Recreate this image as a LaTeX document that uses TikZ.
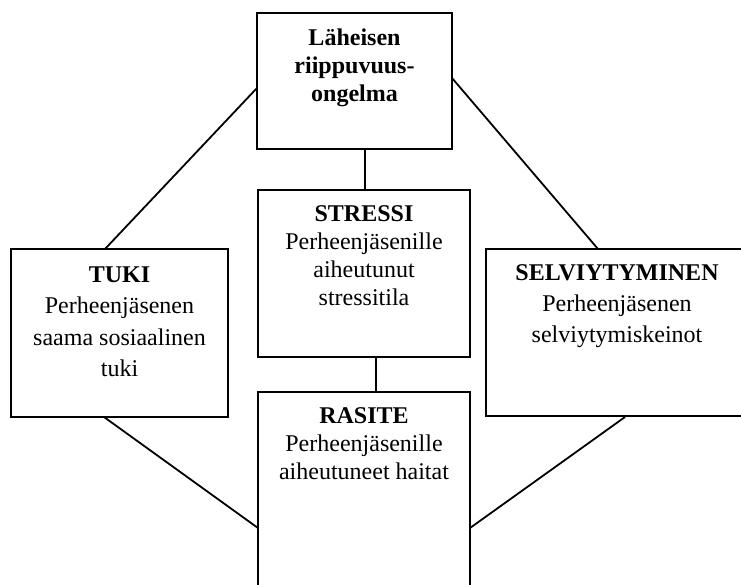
\documentclass[tikz,border=0pt]{standalone}
\usepackage{fontspec}
\setmainfont{Liberation Serif}
\begin{document}
\begin{tikzpicture}[x=1pt,y=-1pt,
  boxstyle/.style={draw=black, line width=2pt, fill=white, inner sep=0pt},
  conn/.style={draw=black, line width=1.8pt},
  lbl/.style={align=center, anchor=base, inner sep=0pt}]
\useasboundingbox[fill=white] (0,0) rectangle (741,584);
\begin{scope}
\clip (0,0) rectangle (741,584);
% connectors first (behind boxes)
\coordinate (c1a) at (257,88);  \coordinate (c1b) at (105,249);
\coordinate (c2a) at (452,78);  \coordinate (c2b) at (598,249);
\coordinate (c3a) at (365,149); \coordinate (c3b) at (365,190);
\coordinate (c4a) at (376,357); \coordinate (c4b) at (376,392);
\coordinate (c5a) at (104,417); \coordinate (c5b) at (258,528);
\coordinate (c6a) at (625,417); \coordinate (c6b) at (470,528);
\draw[conn] (c1a) -- (c1b);
\draw[conn] (c2a) -- (c2b);
\draw[conn] (c3a) -- (c3b);
\draw[conn] (c4a) -- (c4b);
\draw[conn] (c5a) -- (c5b);
\draw[conn] (c6a) -- (c6b);
% boxes
\node[boxstyle, minimum width=195pt, minimum height=136pt] (top) at (354.5,81) {};
\node[boxstyle, minimum width=212pt, minimum height=167pt] (stress) at (364,273.5) {};
\node[boxstyle, minimum width=217pt, minimum height=168pt] (tuki) at (119.5,333) {};
\node[boxstyle, minimum width=262pt, minimum height=167pt] (selv) at (617,332.5) {};
\node[boxstyle, minimum width=212pt, minimum height=236pt] (rasite) at (364,510) {};
% texts (anchor base = baseline of last line)
\node[lbl, font={\fontsize{24}{28}\selectfont\bfseries}] (ttop) at (354.5,101)
  {Läheisen\\riippuvuus-\\ongelma};
\node[lbl, font={\fontsize{24}{28}\selectfont}] (tstress) at (364,305)
  {\textbf{STRESSI}\\Perheenjäsenille\\aiheutunut\\stressitila};
\node[lbl, font={\fontsize{24}{31.6}\selectfont}] (ttuki) at (119.5,376.8)
  {\textbf{TUKI}\\Perheenjäsenen\\saama sosiaalinen\\tuki};
\node[lbl, font={\fontsize{24}{31}\selectfont}] (tselv) at (617,342)
  {\textbf{SELVIYTYMINEN}\\Perheenjäsenen\\selviytymiskeinot};
\node[lbl, font={\fontsize{24}{28}\selectfont}] (trasite) at (364,479)
  {\textbf{RASITE}\\Perheenjäsenille\\aiheutuneet haitat};
\end{scope}
\end{tikzpicture}
\end{document}
